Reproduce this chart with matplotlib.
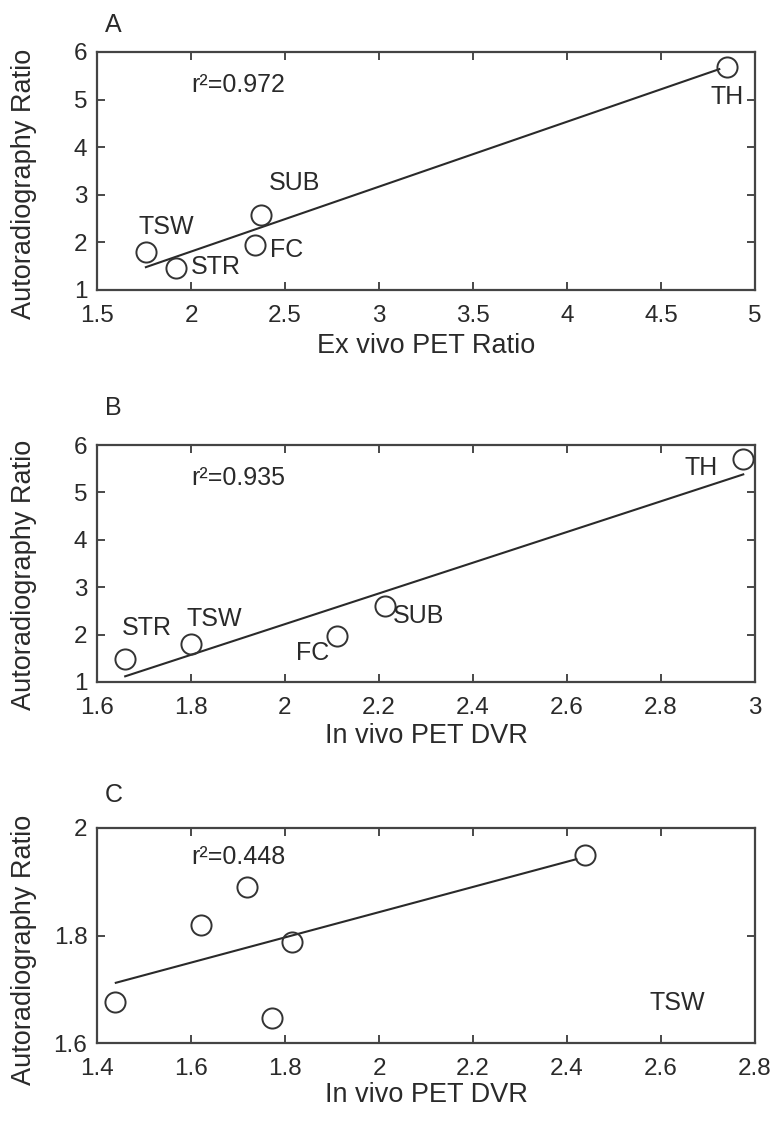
import matplotlib.pyplot as plt

plt.rcParams['font.family'] = ['Liberation Sans', 'DejaVu Sans']

# Panel A: autoradiography vs ex vivo PET ratio
regions_a = ['TH', 'SUB', 'FC', 'TSW', 'STR']
exvivo_a = [4.85, 2.37, 2.34, 1.76, 1.92]
autorad_a = [5.68, 2.58, 1.95, 1.80, 1.47]
fit_a_x = [1.76, 4.81]
fit_a_y = [1.48, 5.64]
label_a_x = [4.85, 2.55, 2.42, 1.87, 2.00]
label_a_y = [5.05, 3.25, 1.84, 2.32, 1.48]
label_a_ha = ['center', 'center', 'left', 'center', 'left']

# Panel B: autoradiography vs in vivo PET DVR
regions_b = ['TH', 'SUB', 'FC', 'TSW', 'STR']
invivo_b = [2.975, 2.213, 2.11, 1.80, 1.66]
autorad_b = [5.70, 2.60, 1.97, 1.81, 1.49]
fit_b_x = [1.66, 2.975]
fit_b_y = [1.12, 5.38]
label_b_x = [2.92, 2.23, 2.095, 1.79, 1.653]
label_b_y = [5.52, 2.40, 1.62, 2.33, 2.13]
label_b_ha = ['right', 'left', 'right', 'left', 'left']

# Panel C: subset, narrow range
invivo_c = [1.438, 1.621, 1.72, 1.772, 1.815, 2.438]
autorad_c = [1.676, 1.82, 1.89, 1.647, 1.788, 1.95]
fit_c_x = [1.44, 2.42]
fit_c_y = [1.712, 1.942]

xticks_a = [1.5, 2, 2.5, 3, 3.5, 4, 4.5, 5]
xticklabels_a = ['1.5', '2', '2.5', '3', '3.5', '4', '4.5', '5']
xticks_b = [1.6, 1.8, 2, 2.2, 2.4, 2.6, 2.8, 3]
xticklabels_b = ['1.6', '1.8', '2', '2.2', '2.4', '2.6', '2.8', '3']
xticks_c = [1.4, 1.6, 1.8, 2, 2.2, 2.4, 2.6, 2.8]
xticklabels_c = ['1.4', '1.6', '1.8', '2', '2.2', '2.4', '2.6', '2.8']
yticks_ab = [1, 2, 3, 4, 5, 6]
yticklabels_ab = ['1', '2', '3', '4', '5', '6']
yticks_c = [1.6, 1.8, 2]
yticklabels_c = ['1.6', '1.8', '2']

ink = '#2a2a2a'
fig = plt.figure(figsize=(7.79, 11.23), dpi=100)

ax_a = fig.add_axes([97/779, 1-290/1123, 658/779, 238/1123])
ax_b = fig.add_axes([97/779, 1-682/1123, 658/779, 237/1123])
ax_c = fig.add_axes([97/779, 1-1043/1123, 658/779, 215/1123])


def style(ax, xlim, ylim, xt, xtl, yt, ytl, xlabel, ylab_y):
    ax.set_xlim(*xlim)
    ax.set_ylim(*ylim)
    ax.set_xticks(xt)
    ax.set_xticklabels(xtl)
    ax.set_yticks(yt)
    ax.set_yticklabels(ytl)
    ax.tick_params(direction='in', length=6, width=1.2, colors=ink,
                   labelsize=17.5, top=True, right=True)
    ax.tick_params(axis='x', pad=11)
    ax.tick_params(axis='y', pad=7)
    for sp in ax.spines.values():
        sp.set_color('#444444')
        sp.set_linewidth(1.6)
    ax.set_xlabel(xlabel, fontsize=19.5, color=ink)
    ax.set_ylabel('Autoradiography Ratio', fontsize=19.5, color=ink)
    ax.yaxis.set_label_coords(-0.091, ylab_y)


def scatter_fit(ax, x, y, fx, fy):
    ax.plot(fx, fy, color=ink, lw=1.5, zorder=2)
    ax.plot(x, y, 'o', ms=14.5, mfc='none', mec='#333333', mew=1.4, zorder=3)


# A
scatter_fit(ax_a, exvivo_a, autorad_a, fit_a_x, fit_a_y)
for name, lx, ly, ha in zip(regions_a, label_a_x, label_a_y, label_a_ha):
    ax_a.text(lx, ly, name, fontsize=18, ha=ha, va='center', color=ink)
ax_a.text(2.0, 5.3, 'r²=0.972', fontsize=18, ha='left', va='center', color=ink)
style(ax_a, (1.5, 5), (1, 6), xticks_a, xticklabels_a, yticks_ab, yticklabels_ab,
      'Ex vivo PET Ratio', 0.445)
ax_a.xaxis.set_label_coords(0.5, -0.18)

# B
scatter_fit(ax_b, invivo_b, autorad_b, fit_b_x, fit_b_y)
for name, lx, ly, ha in zip(regions_b, label_b_x, label_b_y, label_b_ha):
    ax_b.text(lx, ly, name, fontsize=18, ha=ha, va='center', color=ink)
ax_b.text(1.8, 5.3, 'r²=0.935', fontsize=18, ha='left', va='center', color=ink)
style(ax_b, (1.6, 3), (1, 6), xticks_b, xticklabels_b, yticks_ab, yticklabels_ab,
      'In vivo PET DVR', 0.45)
ax_b.xaxis.set_label_coords(0.5, -0.175)

# C
scatter_fit(ax_c, invivo_c, autorad_c, fit_c_x, fit_c_y)
ax_c.text(2.575, 1.675, 'TSW', fontsize=18, ha='left', va='center', color=ink)
ax_c.text(1.6, 1.946, 'r²=0.448', fontsize=18, ha='left', va='center', color=ink)
style(ax_c, (1.4, 2.8), (1.6, 2), xticks_c, xticklabels_c, yticks_c, yticklabels_c,
      'In vivo PET DVR', 0.435)
ax_c.xaxis.set_label_coords(0.5, -0.18)

# panel letters
for letter, ypx in zip(['A', 'B', 'C'], [25, 408, 795]):
    fig.text(105/779, 1 - ypx/1123, letter, fontsize=18, ha='left', va='center', color=ink)

fig.savefig('out.png', dpi=100)
